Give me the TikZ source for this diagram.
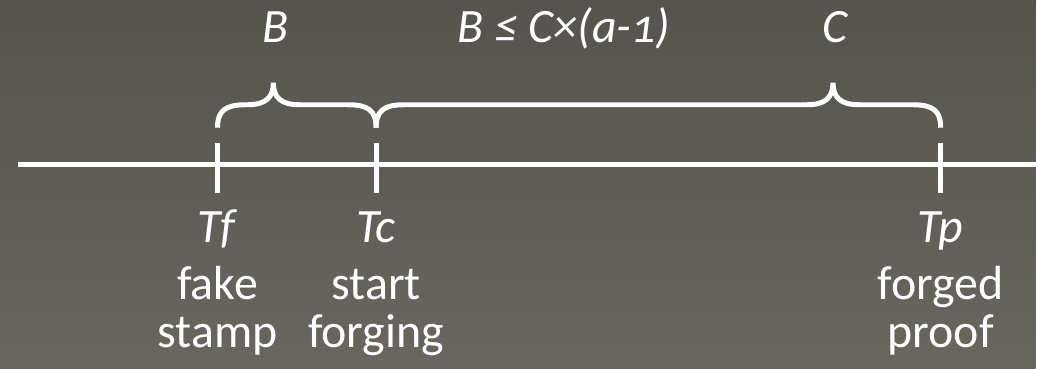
\documentclass[tikz,border=0pt]{standalone}
\usepackage{fontspec}
\setmainfont{Carlito}[Numbers=OldStyle]

\definecolor{bgtop}{HTML}{57534E}
\definecolor{bgbot}{HTML}{69655F}

% brace over the time line: left end, peak, right end
\newcommand{\timebrace}[3]{\draw[tl] (#1,128) .. controls (#1,111) and (#1+8,105) .. (#1+28,105) -- (#2-26,105) .. controls (#2-8,105) and (#2,98) .. (#2,83) .. controls (#2,98) and (#2+8,105) .. (#2+26,105) -- (#3-28,105) .. controls (#3-8,105) and (#3,111) .. (#3,128);}

\begin{document}
\begin{tikzpicture}[x=0.5pt,y=-0.5pt,
  tl/.style={white,line width=2.5pt},
  lbl/.style={text=white,font=\fontsize{24}{25}\selectfont,anchor=base,inner sep=0pt}]
  \fill[top color=bgtop,bottom color=bgbot] (0,0) rectangle (1038,369);
  \coordinate (start) at (18,164.5); \coordinate (end) at (1038,164.5); \draw[tl] (start) -- (end);
  \foreach \x/\n in {218/f,377/c,943/p} {\draw[tl] (\x,143) coordinate (top\n) -- (\x,193) coordinate (bot\n);}
  \timebrace{218}{274}{377} \timebrace{377}{835}{943}
  \node[lbl] (blab) at (276,43) {\textit{B}}; \node[lbl] (cond) at (565,43) {\textit{B ≤ C×(a-1)}}; \node[lbl] (clab) at (838,43) {\textit{C}};
  \foreach \x/\t/\a/\b [count=\i] in {218/Tf/fake/stamp, 377/Tc/start/forging, 943/Tp/forged/proof} {
    \node[lbl] (t\i) at (\x,243) {\textit{\t}}; \node[lbl] (a\i) at (\x,300) {\a}; \node[lbl] (b\i) at (\x,348) {\b};
  }
\end{tikzpicture}
\end{document}
